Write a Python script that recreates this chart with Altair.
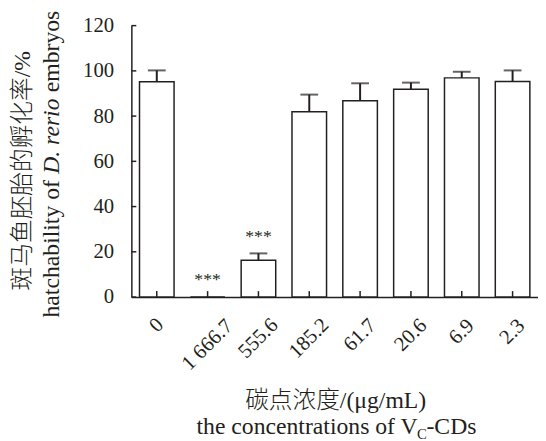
import altair as alt
import pandas as pd

categories = ["0", "1 666.7", "555.6", "185.2", "61.7", "20.6", "6.9", "2.3"]
means = [95.2, 0.0, 16.3, 81.9, 86.8, 91.9, 96.9, 95.3]
errors = [5.0, 0.0, 3.0, 7.6, 7.7, 2.9, 2.7, 4.9]
stars = ["", "***", "***", "", "", "", "", ""]
y_ticks = [0, 20, 40, 60, 80, 100, 120]

y_title_cn = "斑马鱼胚胎的孵化率/%"
y_title_en = ["hatchability of", "D. rerio", "embryos"]
x_title_cn = "碳点浓度/(μg/mL)"
x_title_en = ["the concentrations of V", "C", "-CDs"]

FONT = "'Liberation Serif', 'Noto Sans CJK SC'"
INK = "#231f20"
W, H = 412, 275

df = pd.DataFrame({
    "cat": categories,
    "mean": means,
    "err": errors,
    "star": stars,
})
df["top"] = df["mean"] + df["err"]
tick_df = pd.DataFrame({"v": y_ticks})
one = alt.Data(values=[{"k": 1}])

xscale = alt.Scale(paddingInner=0.32, paddingOuter=0.16)
yscale = alt.Scale(domain=[0, 120], nice=False)
# rotated labels centred on their tick, pushed down by their length
xaxis = alt.Axis(title=None, labelAngle=-45, ticks=False, grid=False,
                 labelAlign="center", labelBaseline="middle",
                 labelPadding={"expr": "25 + 3.3 * length(datum.label)"})
yaxis = alt.Axis(title=None, values=y_ticks, ticks=False, grid=False, labelPadding=18)


def X():
    return alt.X("cat:N", sort=categories, scale=xscale, axis=xaxis, title=None)


def Y(field):
    return alt.Y(field, scale=yscale, axis=yaxis, title=None)


bars = alt.Chart(df).mark_bar(fill="white", stroke=INK, strokeWidth=1.5).encode(
    x=X(), y=Y("mean:Q"))

err_rule = alt.Chart(df).transform_filter("datum.err > 0").mark_rule(
    color=INK, strokeWidth=2).encode(x=X(), y=Y("mean:Q"), y2="top:Q")

err_cap = alt.Chart(df).transform_filter("datum.err > 0").mark_tick(
    color=INK, size=18, thickness=2, orient="horizontal").encode(
    x=X(), y=Y("top:Q"))

star_txt = alt.Chart(df).mark_text(
    font=FONT, fontSize=18, color=INK, dy=-17, baseline="middle").encode(
    x=X(), y=Y("top:Q"), text="star:N")

xticks = alt.Chart(df).mark_rule(color=INK, strokeWidth=1.5).encode(
    x=X(), y=alt.value(H), y2=alt.value(H - 6))

yticks = alt.Chart(tick_df).mark_rule(color=INK, strokeWidth=1.5).encode(
    y=Y("v:Q"), x=alt.value(0), x2=alt.value(5))

TS = 24
ytc = alt.Chart(one).mark_text(text=y_title_cn, font=FONT, fontSize=24, color=INK,
                               fontWeight=300,
                               angle=270, align="center", baseline="middle").encode(
    x=alt.value(-110), y=alt.value(147))
yte1 = alt.Chart(one).mark_text(text=y_title_en[0], font=FONT, fontSize=TS, color=INK,
                                angle=270, align="right", baseline="middle").encode(
    x=alt.value(-80), y=alt.value(156.5))
yte2 = alt.Chart(one).mark_text(text=y_title_en[1], font=FONT, fontSize=TS, color=INK,
                                fontStyle="italic",
                                angle=270, align="center", baseline="middle").encode(
    x=alt.value(-80), y=alt.value(112))
yte3 = alt.Chart(one).mark_text(text=y_title_en[2], font=FONT, fontSize=TS, color=INK,
                                angle=270, align="left", baseline="middle").encode(
    x=alt.value(-80), y=alt.value(67.5))

xtc = alt.Chart(one).mark_text(text=x_title_cn, font=FONT, fontSize=TS, color=INK,
                               fontWeight=300,
                               align="center", baseline="alphabetic").encode(
    x=alt.value(207), y=alt.value(387))
xte1 = alt.Chart(one).mark_text(text=x_title_en[0], font=FONT, fontSize=TS, color=INK,
                                align="right", baseline="alphabetic").encode(
    x=alt.value(290), y=alt.value(414))
xte2 = alt.Chart(one).mark_text(text=x_title_en[1], font=FONT, fontSize=15, color=INK,
                                align="center", baseline="alphabetic").encode(
    x=alt.value(294.5), y=alt.value(419))
xte3 = alt.Chart(one).mark_text(text=x_title_en[2], font=FONT, fontSize=TS, color=INK,
                                align="left", baseline="alphabetic").encode(
    x=alt.value(299), y=alt.value(414))

chart = alt.layer(
    bars, err_rule, err_cap, star_txt, xticks, yticks,
    ytc, yte1, yte2, yte3, xtc, xte1, xte2, xte3,
).properties(
    width=W, height=H,
    autosize=alt.AutoSizeParams(type="none"),
    padding={"left": 125, "top": 15, "right": 0, "bottom": 143},
).configure_view(stroke=None).configure_axis(
    labelFont=FONT, labelFontSize=21, labelColor=INK,
    domainColor=INK, domainWidth=1.5,
)

chart.save("out.html", embed_options={"renderer": "svg", "actions": False})
